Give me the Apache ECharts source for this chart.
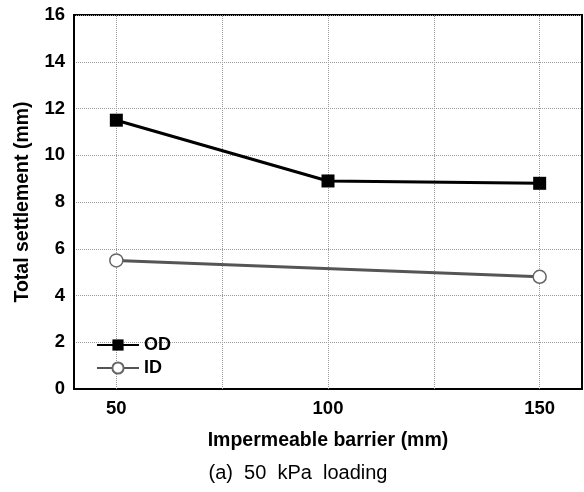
<!DOCTYPE html>
<html>
<head>
<meta charset="utf-8">
<script src="https://cdn.jsdelivr.net/npm/echarts@6/dist/echarts.min.js"></script>
<style>
  html, body { margin: 0; padding: 0; background: #fff; }
  #chart { width: 584px; height: 492px; }
</style>
</head>
<body>
<div id="chart"></div>
<script>
// Barrier widths (mm) and total settlement (mm) under 50 kPa loading
const barrierMm = [50, 100, 150];
const odSettlement = [11.5, 8.9, 8.8];
const idBarrierMm = [50, 150];
const idSettlement = [5.5, 4.8];
// Labelled x ticks and vertical guide lines
const xLabelValues = [50, 100, 150];
const xGuideValues = [50, 75, 100, 125, 150];

const FONT = '"Liberation Sans", Arial, sans-serif';

const chart = echarts.init(document.getElementById('chart'), null, { renderer: 'canvas' });

const guideLine = { type: 'dotted', color: '#9a9a9a', width: 1 };

chart.setOption({
  animation: false,
  grid: {
    left: 74, top: 15, right: 2, bottom: 103,
    show: true, borderColor: '#000', borderWidth: 2, backgroundColor: 'transparent'
  },
  legend: {
    orient: 'vertical',
    left: 91, top: 331,
    itemWidth: 42, itemHeight: 14, itemGap: 5,
    textStyle: { fontFamily: FONT, fontWeight: 'bold', fontSize: 18, color: '#000' },
    data: ['OD', 'ID']
  },
  xAxis: {
    type: 'value',
    min: 40, max: 160,
    name: 'Impermeable barrier (mm)',
    nameLocation: 'middle', nameGap: 42,
    nameTextStyle: { fontFamily: FONT, fontWeight: 'bold', fontSize: 19.5, color: '#000' },
    axisLine: { show: true, lineStyle: { color: '#000', width: 2 } },
    axisTick: { show: false },
    axisLabel: {
      customValues: xLabelValues,
      margin: 10,
      fontFamily: FONT, fontWeight: 'bold', fontSize: 18.5, color: '#000'
    },
    splitLine: { show: false }
  },
  yAxis: {
    type: 'value',
    min: 0, max: 16, interval: 2,
    name: 'Total settlement (mm)',
    nameLocation: 'middle', nameGap: 41,
    nameTextStyle: { fontFamily: FONT, fontWeight: 'bold', fontSize: 19.5, color: '#000' },
    axisLine: { show: true, lineStyle: { color: '#000', width: 2 } },
    axisTick: { show: false },
    axisLabel: { margin: 9, fontFamily: FONT, fontWeight: 'bold', fontSize: 18.5, color: '#000' },
    splitLine: { show: true, lineStyle: guideLine }
  },
  series: [
    {
      name: 'OD',
      type: 'line',
      data: barrierMm.map((x, i) => [x, odSettlement[i]]),
      symbol: 'rect', symbolSize: 13,
      lineStyle: { color: '#000', width: 3 },
      itemStyle: { color: '#000' },
      z: 3,
      markLine: {
        silent: true,
        symbol: 'none',
        z: 1,
        label: { show: false },
        lineStyle: guideLine,
        emphasis: { disabled: true },
        data: xGuideValues.map(v => ({ xAxis: v }))
      }
    },
    {
      name: 'ID',
      type: 'line',
      data: idBarrierMm.map((x, i) => [x, idSettlement[i]]),
      symbol: 'circle', symbolSize: 13,
      lineStyle: { color: '#555', width: 3 },
      itemStyle: { color: '#fff', borderColor: '#666', borderWidth: 1.5 },
      z: 3
    }
  ],
  graphic: [
    {
      type: 'text',
      x: 298, y: 473,
      style: {
        text: '(a)  50  kPa  loading',
        fontFamily: FONT,
        fontSize: 20, fill: '#000',
        align: 'center', verticalAlign: 'middle'
      }
    }
  ]
});
</script>
</body>
</html>
